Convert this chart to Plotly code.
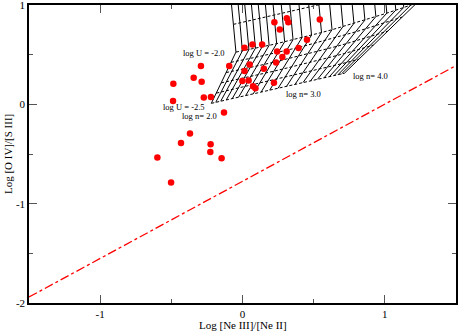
import plotly.graph_objects as go

# observed line ratios
ne_ratio = [0.014, 0.070, 0.138, 0.224, 0.311, 0.322, 0.262, 0.543, 0.453, 0.394,
            0.243, 0.310, 0.280, 0.236, -0.093, 0.050, 0.150, 0.014, -0.001, 0.043,
            0.074, 0.091, 0.221, -0.130, -0.147, -0.292, -0.343, -0.287, -0.486, -0.488,
            -0.272, -0.222, -0.369, -0.432, -0.224, -0.226, -0.598, -0.502]
o_s_ratio = [0.570, 0.603, 0.603, 0.827, 0.867, 0.827, 0.754, 0.854, 0.650, 0.566,
             0.533, 0.533, 0.476, 0.422, 0.387, 0.402, 0.359, 0.335, 0.234, 0.241,
             0.181, 0.161, 0.218, -0.083, -0.543, 0.385, 0.268, 0.228, 0.208, 0.033,
             0.070, 0.073, -0.294, -0.389, -0.402, -0.479, -0.536, -0.787]

# dash-dot reference line
ref_x = [-1.5, 1.5]
ref_y = [-1.94, 0.39]

# model grid: one row per log U, one column per log n (2.0 ... 4.0)
gx_u25 = [-0.219, -0.188, -0.153, -0.114, -0.072, -0.027, 0.022, 0.075, 0.131, 0.191, 0.250,
          0.310, 0.369, 0.425, 0.478, 0.527, 0.573, 0.611, 0.643, 0.671, 0.695, 0.716]
gy_u25 = [0.010, 0.020, 0.032, 0.044, 0.058, 0.073, 0.088, 0.105, 0.124, 0.143, 0.162,
          0.182, 0.201, 0.219, 0.236, 0.252, 0.267, 0.279, 0.289, 0.298, 0.306, 0.313]
gx_u24 = [-0.184, -0.151, -0.113, -0.073, -0.030, 0.016, 0.066, 0.119, 0.176, 0.236, 0.297,
          0.359, 0.421, 0.481, 0.539, 0.594, 0.646, 0.692, 0.730, 0.763, 0.792, 0.818]
gy_u24 = [0.113, 0.124, 0.136, 0.148, 0.162, 0.177, 0.193, 0.210, 0.229, 0.249, 0.269,
          0.290, 0.311, 0.332, 0.352, 0.371, 0.390, 0.407, 0.421, 0.433, 0.445, 0.454]
gx_u23 = [-0.150, -0.113, -0.074, -0.032, 0.012, 0.059, 0.109, 0.163, 0.221, 0.282, 0.344,
          0.408, 0.473, 0.537, 0.600, 0.660, 0.719, 0.772, 0.817, 0.856, 0.890, 0.919]
gy_u23 = [0.216, 0.227, 0.240, 0.252, 0.266, 0.281, 0.297, 0.315, 0.334, 0.355, 0.376,
          0.398, 0.421, 0.445, 0.468, 0.490, 0.513, 0.535, 0.553, 0.569, 0.583, 0.596]
gx_u22 = [-0.115, -0.076, -0.034, 0.009, 0.054, 0.101, 0.153, 0.208, 0.265, 0.327, 0.391,
          0.457, 0.525, 0.594, 0.661, 0.727, 0.791, 0.853, 0.903, 0.948, 0.987, 1.021]
gy_u22 = [0.320, 0.331, 0.343, 0.357, 0.371, 0.386, 0.402, 0.420, 0.440, 0.460, 0.482,
          0.507, 0.531, 0.557, 0.583, 0.610, 0.637, 0.662, 0.684, 0.704, 0.722, 0.737]
gx_u21 = [-0.081, -0.038, 0.005, 0.050, 0.096, 0.144, 0.196, 0.252, 0.310, 0.373, 0.438,
          0.506, 0.577, 0.650, 0.722, 0.793, 0.864, 0.933, 0.990, 1.041, 1.085, 1.122]
gy_u21 = [0.423, 0.434, 0.447, 0.461, 0.475, 0.490, 0.506, 0.525, 0.545, 0.566, 0.589,
          0.615, 0.641, 0.670, 0.699, 0.729, 0.760, 0.790, 0.816, 0.840, 0.860, 0.879]
gx_u20 = [-0.046, -0.001, 0.045, 0.091, 0.138, 0.187, 0.240, 0.296, 0.355, 0.418, 0.485,
          0.555, 0.629, 0.706, 0.783, 0.860, 0.937, 1.014, 1.077, 1.133, 1.182, 1.224]
gy_u20 = [0.526, 0.538, 0.551, 0.565, 0.579, 0.594, 0.611, 0.630, 0.650, 0.672, 0.696,
          0.723, 0.751, 0.783, 0.815, 0.848, 0.883, 0.918, 0.948, 0.975, 0.999, 1.020]
gx_u19 = [-0.064, -0.018, 0.027, 0.073, 0.120, 0.169, 0.222, 0.278, 0.337, 0.400, 0.467,
          0.537, 0.611, 0.689, 0.766, 0.844, 0.921, 0.999, 1.063, 1.119, 1.169, 1.211]
gy_u19 = [0.805, 0.819, 0.834, 0.850, 0.865, 0.881, 0.899, 0.917, 0.937, 0.958, 0.980,
          1.003, 1.027, 1.053, 1.078, 1.104, 1.130, 1.155, 1.176, 1.195, 1.211, 1.225]
gx_u18 = [-0.084, -0.038, 0.007, 0.053, 0.100, 0.149, 0.202, 0.258, 0.317, 0.380, 0.447,
          0.517, 0.591, 0.669, 0.746, 0.824, 0.901, 0.979, 1.043, 1.099, 1.149, 1.191]
gy_u18 = [1.105, 1.119, 1.134, 1.150, 1.165, 1.181, 1.199, 1.217, 1.237, 1.258, 1.280,
          1.303, 1.327, 1.353, 1.378, 1.404, 1.430, 1.455, 1.476, 1.495, 1.511, 1.525]

grid_x = [gx_u25, gx_u24, gx_u23, gx_u22, gx_u21, gx_u20, gx_u19, gx_u18]
grid_y = [gy_u25, gy_u24, gy_u23, gy_u22, gy_u21, gy_u20, gy_u19, gy_u18]

fig = go.Figure()

# constant log U (dashed)
for gx, gy in zip(grid_x, grid_y):
    fig.add_trace(go.Scatter(x=gx, y=gy, mode="lines",
                             line=dict(color="black", width=1, dash="3px,2px")))

# constant log n (solid)
for i in range(len(gx_u25)):
    fig.add_trace(go.Scatter(x=[row[i] for row in grid_x], y=[row[i] for row in grid_y],
                             mode="lines", line=dict(color="black", width=1)))

fig.add_trace(go.Scatter(x=ref_x, y=ref_y, mode="lines",
                         line=dict(color="red", width=1.3, dash="dashdot")))

fig.add_trace(go.Scatter(x=ne_ratio, y=o_s_ratio, mode="markers",
                         marker=dict(color="#ff0000", size=6.5)))

labels = [("log U = -2.0", -0.270, 0.521), ("log U = -2.5", -0.413, -0.022),
          ("log n= 2.0", -0.299, -0.114), ("log n= 3.0", 0.430, 0.108),
          ("log n= 4.0", 0.897, 0.281)]
for txt, lx, ly in labels:
    fig.add_annotation(x=lx, y=ly, text=txt, showarrow=False,
                       font=dict(size=8.5, color="black"))

# axis titles
fig.add_annotation(x=0.5, y=-0.073, xref="paper", yref="paper", text="Log [Ne III]/[Ne II]",
                   showarrow=False, xanchor="center", yanchor="middle",
                   font=dict(size=11, color="black"))
fig.add_annotation(x=-0.049, y=0.5, xref="paper", yref="paper", text="Log [O IV]/[S III]",
                   showarrow=False, textangle=-90, xanchor="center", yanchor="middle",
                   font=dict(size=11, color="black"))

axis_common = dict(showline=True, linecolor="black", linewidth=1.5, mirror="ticks",
                   ticks="inside", ticklen=8, tickwidth=1.3, tickcolor="#555",
                   showgrid=False, zeroline=False, automargin=False,
                   ticklabeloverflow="allow",
                   minor=dict(ticks="inside", ticklen=4, tickcolor="#555", dtick=0.5,
                              showgrid=False),
                   tickfont=dict(size=11, color="black"))

fig.update_layout(
    width=458, height=332,
    margin=dict(l=29, r=2, t=5, b=29),
    paper_bgcolor="white", plot_bgcolor="white",
    showlegend=False,
    font=dict(family="Liberation Serif", color="black"),
    xaxis=dict(range=[-1.5, 1.5], tickvals=[-1, 0, 1], ticktext=["-1", "0", "1"],
               **axis_common),
    yaxis=dict(range=[-2, 1], tickvals=[-2, -1, 0, 1], ticktext=["-2", "-1", "0", "1"],
               **axis_common),
)

fig.write_html("out.html", config={"displayModeBar": False},
               post_script="document.body.style.margin='0';")
